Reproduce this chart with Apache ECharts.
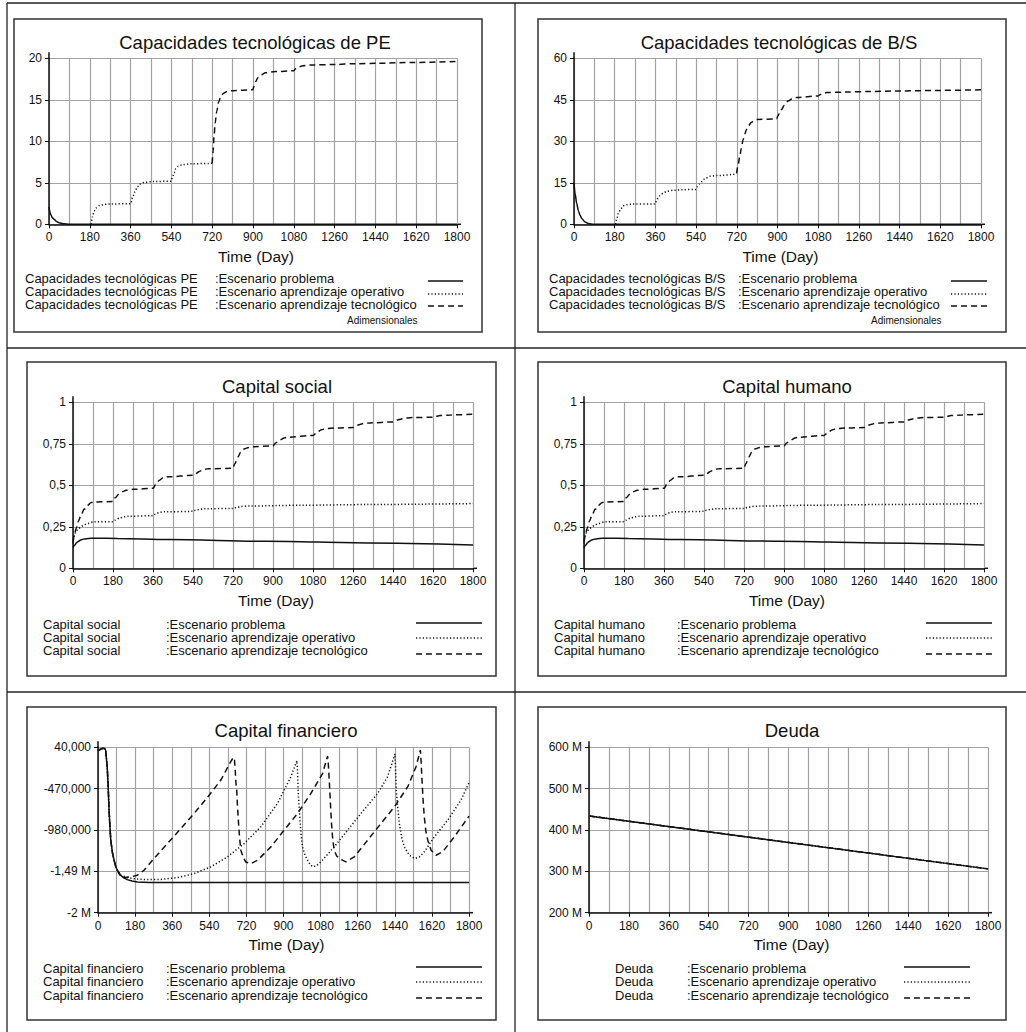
<!DOCTYPE html>
<html><head><meta charset="utf-8">
<script src="https://cdn.jsdelivr.net/npm/echarts@6/dist/echarts.min.js"></script>
<style>html,body{margin:0;padding:0;background:#fff}#c{width:1026px;height:1032px}</style>
</head><body><div id="c"></div>
<script>
// ---------- DATA ----------
const X_LABELS = ['0','180','360','540','720','900','1080','1260','1440','1620','1800'];
const SCEN_LABELS = [':Escenario problema', ':Escenario aprendizaje operativo', ':Escenario aprendizaje tecnológico'];

// Capacidades tecnológicas de PE
const pe_yLabels = ['0','5','10','15','20'];
const pe_problema = [[0,2.1],[4,1.5],[8,1.15],[15,0.8],[22,0.6],[33,0.35],[44,0.2],[66,0.07],[90,0.02],[120,0],[1800,0]];
const pe_operativo = [[186,0],[192,0.9],[199,1.6],[210,2.0],[222,2.25],[245,2.4],[272,2.45],[361,2.48],[368,3.2],[379,3.9],[390,4.5],[400,4.85],[420,5.05],[460,5.15],[539,5.2],[545,5.7],[552,6.2],[560,6.7],[570,7.0],[590,7.2],[630,7.3],[720,7.35]];
const pe_tecnologico = [[720,7.35],[724,8.8],[728,10.5],[733,12.2],[740,13.6],[748,14.7],[758,15.4],[770,15.8],[785,16.0],[810,16.1],[899,16.2],[904,16.6],[912,17.2],[922,17.7],[935,18.0],[955,18.25],[1000,18.4],[1080,18.5],[1088,18.75],[1100,18.95],[1120,19.1],[1160,19.2],[1260,19.25],[1350,19.35],[1450,19.4],[1600,19.5],[1800,19.62]];

// Capacidades tecnológicas de B/S
const bs_yLabels = ['0','15','30','45','60'];
const bs_problema = [[0,15],[5,11],[12,7.5],[20,4.8],[26,3.4],[35,2.0],[49,0.85],[65,0.25],[85,0.03],[100,0],[1800,0]];
const bs_operativo = [[184,0],[190,2.2],[196,3.9],[207,5.6],[218,6.7],[235,7.1],[255,7.3],[359,7.35],[365,8.5],[372,9.5],[380,10.3],[395,11.3],[410,11.9],[440,12.3],[480,12.5],[539,12.6],[546,13.6],[555,14.6],[564,15.4],[580,16.6],[601,17.4],[630,17.6],[660,17.7],[700,18.0],[719,18.4]];
const bs_tecnologico = [[719,18.4],[726,21.5],[733,24.5],[740,27.5],[748,30.6],[755,32.6],[763,34.3],[773,35.8],[785,36.9],[800,37.6],[810,37.9],[896,38.1],[902,39.2],[910,40.4],[918,41.5],[930,43.0],[947,44.6],[965,45.4],[984,45.8],[1078,46.4],[1090,46.9],[1105,47.3],[1117,47.6],[1200,47.8],[1308,48.0],[1450,48.2],[1603,48.4],[1800,48.6]];

// Capital social
const cs_yLabels = ['0','0,25','0,5','0,75','1'];
const cs_problema = [[0,0.125],[8,0.14],[15,0.152],[21,0.16],[35,0.171],[51,0.177],[70,0.18],[96,0.181],[200,0.18],[427,0.173],[877,0.163],[1328,0.153],[1800,0.141]];
const cs_operativo = [[0,0.15],[3,0.18],[6,0.2],[15,0.225],[25,0.24],[36,0.25],[50,0.262],[66,0.27],[96,0.281],[180,0.281],[190,0.29],[209,0.302],[230,0.31],[246,0.313],[361,0.317],[370,0.326],[389,0.337],[410,0.34],[541,0.343],[550,0.349],[569,0.355],[590,0.359],[720,0.36],[735,0.366],[757,0.373],[790,0.375],[1028,0.38],[1328,0.384],[1800,0.39]];
const cs_tecnologico = [[0,0.16],[6,0.2],[14,0.24],[25,0.285],[36,0.32],[50,0.355],[66,0.38],[80,0.395],[96,0.4],[180,0.402],[190,0.425],[209,0.45],[225,0.462],[239,0.47],[270,0.476],[361,0.482],[372,0.505],[389,0.53],[405,0.545],[427,0.551],[541,0.56],[552,0.57],[569,0.583],[585,0.595],[607,0.6],[720,0.602],[728,0.63],[742,0.67],[755,0.7],[772,0.72],[790,0.728],[810,0.732],[900,0.737],[912,0.755],[930,0.772],[950,0.785],[968,0.79],[1080,0.8],[1095,0.815],[1118,0.835],[1140,0.842],[1178,0.845],[1261,0.848],[1275,0.86],[1291,0.867],[1310,0.873],[1336,0.876],[1441,0.882],[1458,0.893],[1478,0.9],[1500,0.905],[1531,0.908],[1621,0.91],[1635,0.916],[1651,0.92],[1700,0.924],[1800,0.928]];

// Capital humano
const ch_yLabels = ['0','0,25','0,5','0,75','1'];
const ch_problema = [[0,0.125],[8,0.14],[15,0.152],[21,0.16],[35,0.171],[51,0.177],[70,0.18],[96,0.181],[200,0.18],[427,0.173],[877,0.163],[1328,0.153],[1800,0.141]];
const ch_operativo = [[0,0.15],[3,0.18],[6,0.2],[15,0.225],[25,0.24],[36,0.25],[50,0.262],[66,0.27],[96,0.281],[180,0.281],[190,0.29],[209,0.302],[230,0.31],[246,0.313],[361,0.317],[370,0.326],[389,0.337],[410,0.34],[541,0.343],[550,0.349],[569,0.355],[590,0.359],[720,0.36],[735,0.366],[757,0.373],[790,0.375],[1028,0.38],[1328,0.384],[1800,0.39]];
const ch_tecnologico = [[0,0.16],[6,0.2],[14,0.24],[25,0.285],[36,0.32],[50,0.355],[66,0.38],[80,0.395],[96,0.4],[180,0.402],[190,0.425],[209,0.45],[225,0.462],[239,0.47],[270,0.476],[361,0.482],[372,0.505],[389,0.53],[405,0.545],[427,0.551],[541,0.56],[552,0.57],[569,0.583],[585,0.595],[607,0.6],[720,0.602],[728,0.63],[742,0.67],[755,0.7],[772,0.72],[790,0.728],[810,0.732],[900,0.737],[912,0.755],[930,0.772],[950,0.785],[968,0.79],[1080,0.8],[1095,0.815],[1118,0.835],[1140,0.842],[1178,0.845],[1261,0.848],[1275,0.86],[1291,0.867],[1310,0.873],[1336,0.876],[1441,0.882],[1458,0.893],[1478,0.9],[1500,0.905],[1531,0.908],[1621,0.91],[1635,0.916],[1651,0.92],[1700,0.924],[1800,0.928]];

// Capital financiero
const cf_yLabels = ['-2 M','-1,49 M','-980,000','-470,000','40,000'];
const cf_problema = [[0,0],[8,10000],[15,20000],[25,28000],[32,25000],[37,5000],[41,-100000],[45,-220000],[49,-420000],[53,-694000],[57,-900000],[62,-1106000],[70,-1260000],[78,-1353000],[86,-1430000],[94,-1477000],[110,-1538000],[125,-1570000],[142,-1592000],[165,-1610000],[191,-1621000],[250,-1627000],[304,-1629000],[1800,-1629000]];
const cf_operativo = [[0,0],[8,10000],[15,20000],[25,28000],[32,25000],[37,5000],[41,-100000],[45,-220000],[49,-420000],[53,-694000],[57,-900000],[62,-1106000],[70,-1260000],[78,-1353000],[86,-1430000],[94,-1477000],[110,-1538000],[140,-1565000],[175,-1580000],[223,-1590000],[304,-1590000],[385,-1567000],[466,-1518000],[547,-1435000],[628,-1312000],[709,-1147000],[790,-941000],[871,-652000],[936,-323000],[965,-125000],[968,-250000],[971,-487000],[976,-700000],[981,-900000],[986,-1060000],[992,-1188000],[1004,-1290000],[1017,-1353000],[1030,-1410000],[1044,-1435000],[1060,-1420000],[1081,-1374000],[1146,-1188000],[1211,-982000],[1276,-776000],[1357,-529000],[1405,-323000],[1441,-42000],[1444,-250000],[1447,-487000],[1454,-700000],[1462,-900000],[1474,-1080000],[1486,-1188000],[1510,-1291000],[1538,-1332000],[1560,-1310000],[1583,-1250000],[1632,-1064000],[1697,-858000],[1761,-611000],[1800,-397000]];
const cf_tecnologico = [[0,0],[8,10000],[15,20000],[25,28000],[32,25000],[37,5000],[41,-100000],[45,-220000],[49,-420000],[53,-694000],[57,-900000],[62,-1106000],[70,-1260000],[78,-1353000],[86,-1430000],[94,-1477000],[110,-1559000],[130,-1565000],[159,-1559000],[191,-1538000],[223,-1477000],[272,-1332000],[337,-1147000],[402,-961000],[466,-776000],[531,-578000],[596,-364000],[644,-137000],[657,-84000],[662,-110000],[666,-250000],[670,-420000],[673,-487000],[677,-700000],[682,-900000],[687,-1080000],[693,-1229000],[705,-1320000],[717,-1374000],[742,-1394000],[774,-1353000],[839,-1188000],[903,-982000],[968,-776000],[1033,-529000],[1090,-281000],[1114,-67000],[1117,-150000],[1122,-364000],[1127,-620000],[1133,-900000],[1139,-1100000],[1146,-1229000],[1158,-1300000],[1171,-1332000],[1203,-1374000],[1243,-1312000],[1308,-1106000],[1373,-900000],[1438,-694000],[1503,-446000],[1543,-199000],[1564,7000],[1568,-150000],[1572,-364000],[1577,-600000],[1583,-817000],[1591,-1000000],[1600,-1106000],[1616,-1229000],[1640,-1291000],[1672,-1250000],[1729,-1064000],[1800,-809000]];

// Deuda
const de_yLabels = ['200 M','300 M','400 M','500 M','600 M'];
const de_problema = [[0,434e6],[1800,306e6]];
const de_operativo = [[0,434e6],[1800,306e6]];
const de_tecnologico = [[0,434e6],[1800,306e6]];

// ---------- LAYOUT / STYLE ----------
const FONT = '"Liberation Sans", Arial, Helvetica, sans-serif';
const INK = '#111';
const GRID_C = '#a3a3a3';
const DOT = [1.2, 2.2];
const DASH = [6, 4];

const panels = [
  {title:'Capacidades tecnológicas de PE', tx:255, ty:42, varName:'Capacidades tecnológicas PE',
   grid:{left:49, top:58.3, width:408, height:166}, yMin:0, yMax:20, yInt:5, yLabels:pe_yLabels,
   data:[pe_problema, pe_operativo, pe_tecnologico], smooth:0.3,
   box:[14,19,468,313], c1:25, c2:215, rowsY:[278,291,304], sx:[428,463], sy:[281,294,306], adim:[347,320]},
  {title:'Capacidades tecnológicas de B/S', tx:779, ty:42, varName:'Capacidades tecnológicas B/S',
   grid:{left:574, top:58.3, width:407, height:166}, yMin:0, yMax:60, yInt:15, yLabels:bs_yLabels,
   data:[bs_problema, bs_operativo, bs_tecnologico], smooth:0.3,
   box:[538,19,468,313], c1:549, c2:738, rowsY:[278,291,304], sx:[951,987], sy:[281,294,306], adim:[871,320]},
  {title:'Capital social', tx:277, ty:386, varName:'Capital social',
   grid:{left:73, top:402.3, width:400, height:166}, yMin:0, yMax:1, yInt:0.25, yLabels:cs_yLabels,
   data:[cs_problema, cs_operativo, cs_tecnologico], smooth:0.3,
   box:[27,362,469,314], c1:43, c2:166, rowsY:[624,637,650], sx:[416,482], sy:[623,638,654]},
  {title:'Capital humano', tx:787, ty:386, varName:'Capital humano',
   grid:{left:584, top:402.3, width:400, height:166}, yMin:0, yMax:1, yInt:0.25, yLabels:ch_yLabels,
   data:[ch_problema, ch_operativo, ch_tecnologico], smooth:0.3,
   box:[538,362,468,314], c1:554, c2:677, rowsY:[624,637,650], sx:[926,992], sy:[623,638,654]},
  {title:'Capital financiero', tx:286, ty:730, varName:'Capital financiero',
   grid:{left:98, top:747.3, width:371, height:165.4}, yMin:-2000000, yMax:40000, yInt:510000, yLabels:cf_yLabels,
   data:[cf_problema, cf_operativo, cf_tecnologico], smooth:0,
   box:[27,707,469,313], c1:43, c2:166, rowsY:[968,981,995], sx:[416,482], sy:[967,982,998]},
  {title:'Deuda', tx:792, ty:730, varName:'Deuda',
   grid:{left:589, top:747.3, width:399, height:165.4}, yMin:200e6, yMax:600e6, yInt:100e6, yLabels:de_yLabels,
   data:[de_problema, de_operativo, de_tecnologico], smooth:0,
   box:[538,707,468,313], c1:615, c2:687, rowsY:[968,981,995], sx:[904,970], sy:[967,982,998]}
];

const chart = echarts.init(document.getElementById('c'), null, {renderer:'svg', width:1026, height:1032});

const grids = [], xAxes = [], yAxes = [], series = [], graphics = [];

// outer table lines
const tableLines = [[7,3,1026,3],[7,348,1026,348],[7,692,1026,692],[7,3,7,1032],[515,3,515,1032]];
tableLines.forEach(l => graphics.push({type:'line', shape:{x1:l[0],y1:l[1],x2:l[2],y2:l[3]}, style:{stroke:'#222', lineWidth:1.3}, silent:true}));

panels.forEach((p, i) => {
  grids.push(Object.assign({containLabel:false}, p.grid));
  xAxes.push({
    gridIndex:i, type:'value', min:0, max:1800, interval:180,
    axisLine:{show:true, onZero:false, lineStyle:{color:INK, width:1.5}},
    axisTick:{show:true, length:4, lineStyle:{color:INK, width:1}},
    axisLabel:{color:INK, fontSize:12, fontFamily:FONT, margin:7, showMinLabel:true, showMaxLabel:true,
      formatter: v => X_LABELS[Math.round(v/180)]},
    splitLine:{show:true, lineStyle:{color:GRID_C, width:1.2}},
    minorTick:{show:false, splitNumber:2},
    minorSplitLine:{show:true, lineStyle:{color:GRID_C, width:1.2}},
    name:'Time (Day)', nameLocation:'middle', nameGap:24,
    nameTextStyle:{fontSize:15.5, color:INK, fontFamily:FONT, padding:[0,0,0,6]}
  });
  yAxes.push({
    gridIndex:i, type:'value', min:p.yMin, max:p.yMax, interval:p.yInt,
    axisLine:{show:true, onZero:false, lineStyle:{color:INK, width:1.5}},
    axisTick:{show:true, length:4, lineStyle:{color:INK, width:1}},
    axisLabel:{color:INK, fontSize:12, fontFamily:FONT, margin:7, showMinLabel:true, showMaxLabel:true,
      formatter: v => p.yLabels[Math.round((v - p.yMin)/p.yInt)]},
    splitLine:{show:true, lineStyle:{color:GRID_C, width:1.2}}
  });
  const lineTypes = ['solid', DOT, DASH];
  // draw operativo, tecnologico first, problema on top
  [1,2,0].forEach(k => {
    series.push({
      type:'line', name:p.varName + SCEN_LABELS[k], xAxisIndex:i, yAxisIndex:i,
      data:p.data[k], showSymbol:false, symbol:'none', silent:true, animation:false,
      smooth:p.smooth, smoothMonotone:'x', clip:true,
      lineStyle:{color:INK, width:1.5, type:lineTypes[k]}
    });
  });
  // small overhang of the axis lines past the plot area (as in the reference)
  const g = p.grid;
  graphics.push({type:'line', silent:true, shape:{x1:g.left, y1:g.top - 6, x2:g.left, y2:g.top},
    style:{stroke:INK, lineWidth:1.5}});
  graphics.push({type:'line', silent:true, shape:{x1:g.left + g.width, y1:g.top + g.height, x2:g.left + g.width + 4, y2:g.top + g.height},
    style:{stroke:INK, lineWidth:1.5}});
  // inner box
  graphics.push({type:'rect', shape:{x:p.box[0], y:p.box[1], width:p.box[2], height:p.box[3]},
    style:{fill:'none', stroke:'#333', lineWidth:1.5}, silent:true});
  // title
  graphics.push({type:'text', silent:true, style:{text:p.title, x:p.tx, y:p.ty, font:'18.5px ' + FONT, fill:INK,
    textAlign:'center', align:'center', textVerticalAlign:'middle', verticalAlign:'middle'}});
  // legend
  for (let k = 0; k < 3; k++) {
    graphics.push({type:'text', silent:true, style:{text:p.varName, x:p.c1, y:p.rowsY[k], font:'13px ' + FONT, fill:INK,
      textAlign:'left', align:'left', textVerticalAlign:'middle', verticalAlign:'middle'}});
    graphics.push({type:'text', silent:true, style:{text:SCEN_LABELS[k], x:p.c2, y:p.rowsY[k], font:'13px ' + FONT, fill:INK,
      textAlign:'left', align:'left', textVerticalAlign:'middle', verticalAlign:'middle'}});
    graphics.push({type:'line', silent:true, shape:{x1:p.sx[0], y1:p.sy[k], x2:p.sx[1], y2:p.sy[k]},
      style:{stroke:INK, lineWidth:1.5, lineDash: k === 0 ? null : (k === 1 ? DOT : DASH)}});
  }
  if (p.adim) {
    graphics.push({type:'text', silent:true, style:{text:'Adimensionales', x:p.adim[0], y:p.adim[1], font:'10px ' + FONT, fill:INK,
      textAlign:'left', align:'left', textVerticalAlign:'middle', verticalAlign:'middle'}});
  }
});

chart.setOption({
  animation:false,
  backgroundColor:'#fff',
  grid:grids, xAxis:xAxes, yAxis:yAxes, series:series,
  graphic:{elements:graphics}
});
</script></body></html>
